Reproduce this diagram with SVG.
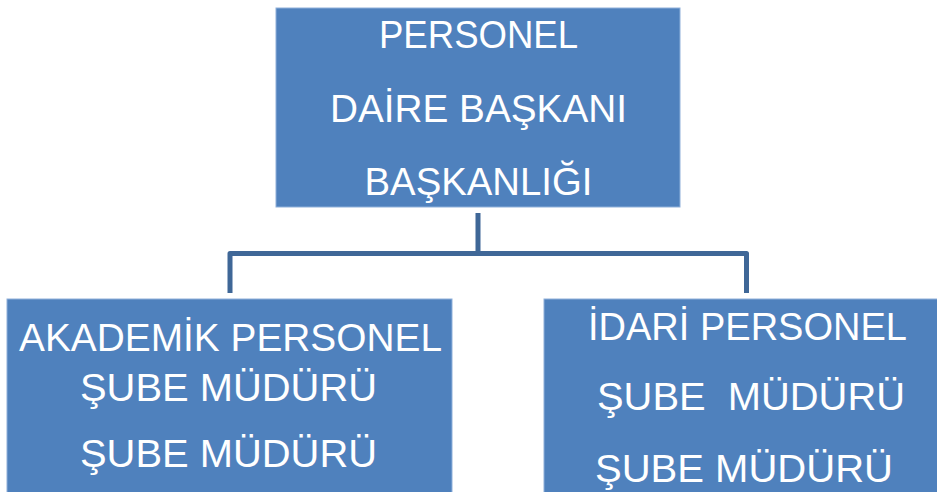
<svg xmlns="http://www.w3.org/2000/svg" width="937" height="492" viewBox="0 0 937 492">
<style>
.box{fill:#4F81BD;stroke:#8FB0DA;stroke-width:1}
.t{font-family:"Liberation Sans","Open Sans",Arial,sans-serif;font-size:38px;fill:#FFFFFF;text-anchor:middle}
.c{fill:none;stroke:#3F6797;stroke-width:5;stroke-linejoin:round}
</style>
<rect width="937" height="492" fill="#FFFFFF"/>
<g id="connectors">
<path class="c" d="M478,213 V253.5 H230 V293"/>
<path class="c" d="M478,253.5 H746.5 V293"/>
</g>
<g id="top">
<rect class="box" x="276" y="8" width="404" height="199"/>
<text class="t" x="478.5" y="48" textLength="199" lengthAdjust="spacingAndGlyphs">PERSONEL</text>
<text class="t" x="478.5" y="122" textLength="297" lengthAdjust="spacingAndGlyphs">DAİRE BAŞKANI</text>
<text class="t" x="478.5" y="195" textLength="228" lengthAdjust="spacingAndGlyphs">BAŞKANLIĞI</text>
</g>
<g id="left">
<rect class="box" x="7" y="299" width="445" height="200"/>
<text class="t" x="230.5" y="351" textLength="423" lengthAdjust="spacingAndGlyphs">AKADEMİK PERSONEL</text>
<text class="t" x="228.5" y="401" textLength="297" lengthAdjust="spacingAndGlyphs">ŞUBE MÜDÜRÜ</text>
<text class="t" x="228.5" y="467" textLength="297" lengthAdjust="spacingAndGlyphs">ŞUBE MÜDÜRÜ</text>
</g>
<g id="right">
<rect class="box" x="544" y="299" width="400" height="200"/>
<text class="t" x="747.5" y="340" textLength="319" lengthAdjust="spacingAndGlyphs">İDARİ PERSONEL</text>
<text class="t" x="751" y="410" textLength="308" lengthAdjust="spacingAndGlyphs" xml:space="preserve">ŞUBE  MÜDÜRÜ</text>
<text class="t" x="744" y="482" textLength="298" lengthAdjust="spacingAndGlyphs">ŞUBE MÜDÜRÜ</text>
</g>
</svg>
